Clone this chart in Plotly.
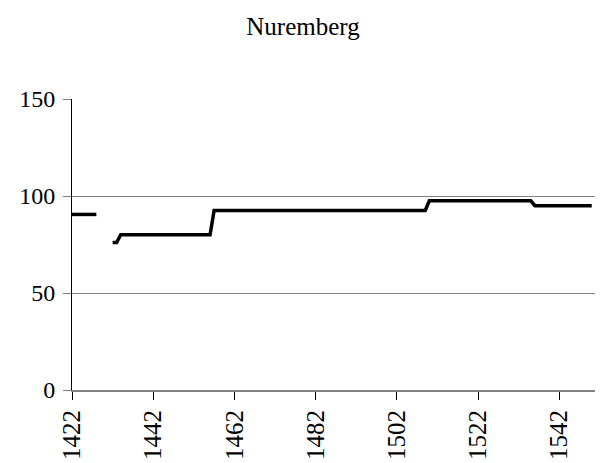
import plotly.graph_objects as go

# corner points of the yearly series (None = missing years)
years = [1422, 1428, None, 1432, 1433, 1434, 1456, 1457, 1509, 1510, 1535, 1536, 1550]
values = [90.5, 90.5, None, 76, 76, 80, 80, 92.5, 92.5, 97.5, 97.5, 95, 95]

x_ticks = [1422, 1442, 1462, 1482, 1502, 1522, 1542]
y_ticks = [0, 50, 100, 150]

fig = go.Figure(
    data=[
        go.Scatter(
            x=years,
            y=values,
            mode="lines",
            line=dict(color="black", width=3.5),
            connectgaps=False,
            showlegend=False,
        )
    ]
)
# the page puts the plot 8px in from the top-left, so sizes are shifted by 8
fig.update_layout(
    width=604,
    height=455,
    plot_bgcolor="white",
    paper_bgcolor="white",
    font=dict(family="Liberation Serif", size=24, color="black"),
    title=dict(
        text="Nuremberg",
        x=295 / 604,
        xanchor="center",
        y=1 - 18 / 455,
        yanchor="middle",
        font=dict(family="Liberation Serif", size=25),
    ),
    margin=dict(l=64, r=17, t=91, b=73),
)
fig.update_xaxes(
    range=[1422, 1550.8],
    tickvals=x_ticks,
    ticktext=[str(v) for v in x_ticks],
    tickangle=-90,
    tickfont=dict(size=25),
    ticks="outside",
    ticklen=8,
    tickcolor="black",
    showgrid=False,
    showline=True,
    linecolor="#808080",
    linewidth=2,
    zeroline=False,
    automargin=False,
)
fig.update_yaxes(
    range=[0, 150],
    tickvals=y_ticks,
    ticks="outside",
    ticklen=8,
    tickcolor="#808080",
    ticklabelstandoff=3,
    showgrid=True,
    gridcolor="#808080",
    gridwidth=1,
    showline=True,
    linecolor="black",
    linewidth=1,
    zeroline=False,
    automargin=False,
)

fig.write_html("out.html")
